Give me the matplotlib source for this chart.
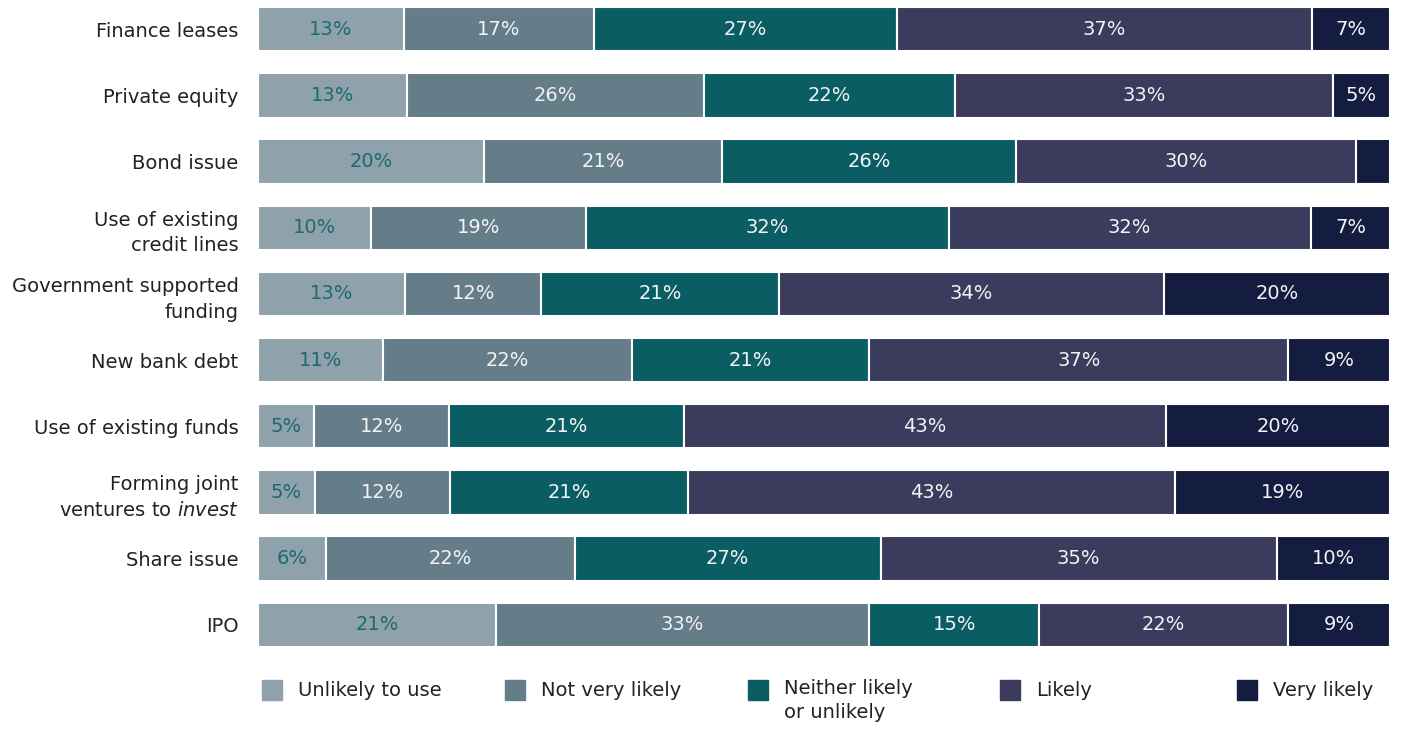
import numpy as np
import matplotlib
matplotlib.use('Agg')
import matplotlib.pyplot as plt
from matplotlib.patches import Rectangle

plt.rcParams['font.family'] = ['DejaVu Sans']
plt.rcParams['mathtext.fontset'] = 'custom'
plt.rcParams['mathtext.rm'] = 'DejaVu Sans'
plt.rcParams['mathtext.it'] = 'DejaVu Sans:italic'

categories = ['Finance leases', 'Private equity', 'Bond issue',
              'Use of existing\ncredit lines', 'Government supported\nfunding',
              'New bank debt', 'Use of existing funds',
              'Forming joint\nventures to $\\it{invest}$', 'Share issue', 'IPO']
series = ['Unlikely to use', 'Not very likely', 'Neither likely\nor unlikely',
          'Likely', 'Very likely']

unlikely = [13, 13, 20, 10, 13, 11, 5, 5, 6, 21]
not_very = [17, 26, 21, 19, 12, 22, 12, 12, 22, 33]
neither = [27, 22, 26, 32, 21, 21, 21, 21, 27, 15]
likely = [37, 33, 30, 32, 34, 37, 43, 43, 35, 22]
very_likely = [7, 5, 3, 7, 20, 9, 20, 19, 10, 9]

colors = ['#8fa2ac', '#647d88', '#0b5d64', '#3b3b5d', '#141c3f']
text_colors = ['#1d6a70', '#f2f4f5', '#f2f4f5', '#f2f4f5', '#f2f4f5']
FS = 14

vals = np.array([unlikely, not_very, neither, likely, very_likely], dtype=float)
widths = vals / vals.sum(axis=0) * 100  # bars fill the full width

fig = plt.figure(figsize=(14.06, 7.29), dpi=100)
ax = fig.add_axes([258 / 1406, 1 - 647 / 729, (1390 - 258) / 1406, 640 / 729])

y = np.arange(len(categories))
left = np.zeros(len(categories))
for i in range(len(series)):
    ax.barh(y, widths[i], left=left, height=0.67, color=colors[i],
            edgecolor='white', linewidth=1.5)
    for j in range(len(categories)):
        if vals[i, j] >= 4:
            ax.text(left[j] + widths[i, j] / 2, y[j], f'{int(vals[i, j])}%',
                    ha='center', va='center', fontsize=FS,
                    color=text_colors[i])
    left += widths[i]

ax.set_xlim(0, 100)
ax.set_ylim(len(categories) - 1 + 0.335, -0.335)
ax.set_yticks(y)
ax.set_yticklabels(categories, fontsize=FS, color='#222222', linespacing=1.45)
ax.tick_params(axis='y', length=0, pad=14)
ax.set_xticks([])
for s in ax.spines.values():
    s.set_visible(False)

# legend row under the bars
leg_x = [262, 505, 748, 1000, 1237]
for x, lab, c in zip(leg_x, series, colors):
    fig.patches.append(Rectangle((x / 1406, 1 - 700 / 729), 20 / 1406, 20 / 729,
                                 transform=fig.transFigure, color=c))
    if '\n' in lab:
        fig.text((x + 36) / 1406, 1 - 679 / 729, lab, fontsize=FS,
                 color='#222222', va='top', linespacing=1.35)
    else:
        fig.text((x + 36) / 1406, 1 - 690 / 729, lab, fontsize=FS,
                 color='#222222', va='center')

fig.savefig('out.png', dpi=100, facecolor='white')
